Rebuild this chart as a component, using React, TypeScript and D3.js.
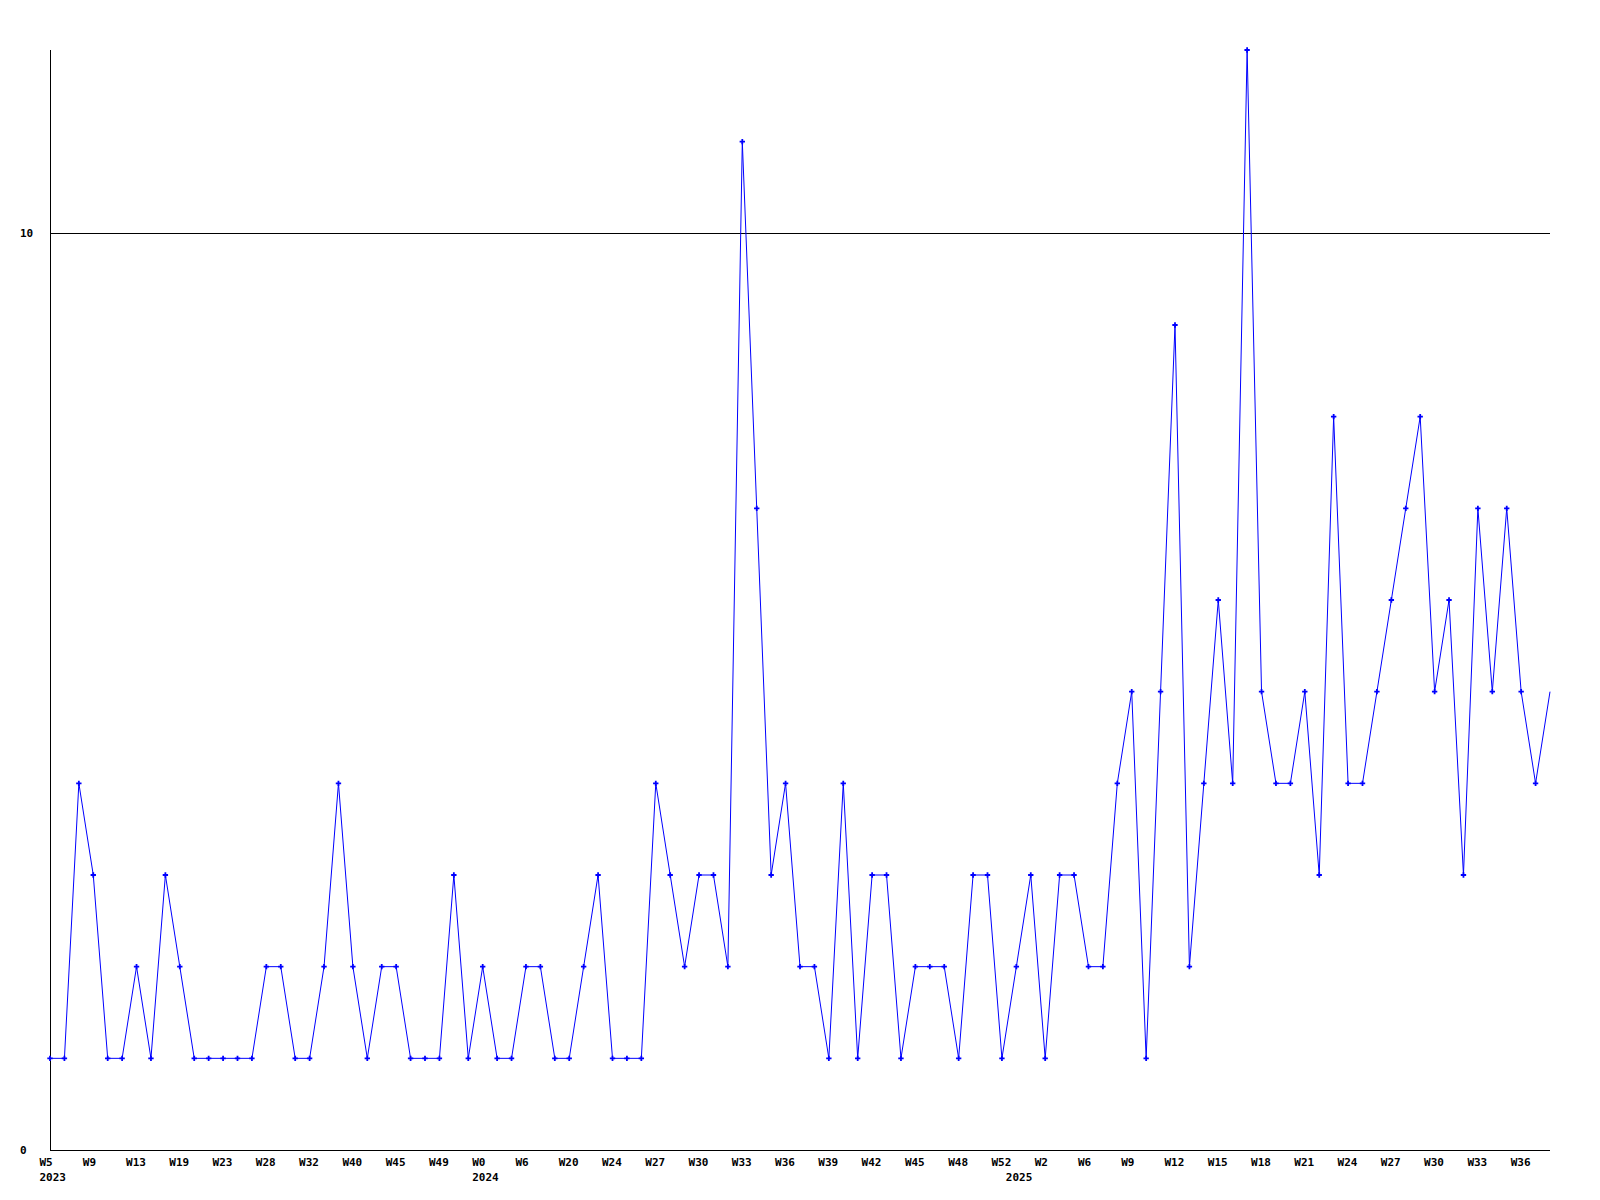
import React, { useEffect, useRef } from "react";
import * as d3 from "d3";

// weekly counts, one per point
const counts: number[] = [
  1, 1, 4, 3, 1, 1, 2, 1, 3, 2,
  1, 1, 1, 1, 1, 2, 2, 1, 1, 2,
  4, 2, 1, 2, 2, 1, 1, 1, 3, 1,
  2, 1, 1, 2, 2, 1, 1, 2, 3, 1,
  1, 1, 4, 3, 2, 3, 3, 2, 11, 7,
  3, 4, 2, 2, 1, 4, 1, 3, 3, 1,
  2, 2, 2, 1, 3, 3, 1, 2, 3, 1,
  3, 3, 2, 2, 4, 5, 1, 5, 9, 2,
  4, 6, 4, 12, 5, 4, 4, 5, 3, 8,
  4, 4, 5, 6, 7, 8, 5, 6, 3, 7,
  5, 7, 5, 4, 5,
];

// week labels, shown on every third point
const weekLabels: string[] = [
  "W5", "W9", "W13", "W19", "W23", "W28", "W32", "W40", "W45", "W49",
  "W0", "W6", "W20", "W24", "W27", "W30", "W33", "W36", "W39", "W42",
  "W45", "W48", "W52", "W2", "W6", "W9", "W12", "W15", "W18", "W21",
  "W24", "W27", "W30", "W33", "W36",
];
const labelStep = 3;

const yearLabels: string[] = ["2023", "2024", "2025"];
const yearIndex: number[] = [0, 30, 67];

const yTicks: number[] = [0, 10];
const yMax = 12;

const App: React.FC = () => {
  const svgRef = useRef<SVGSVGElement>(null);

  useEffect(() => {
    const svg = d3.select(svgRef.current);
    svg.selectAll("*").remove();

    const width = 1600;
    const height = 1200;
    const margin = { top: 50, right: 50, bottom: 50, left: 50 };
    const font = "'DejaVu Sans Mono', monospace";

    const x = d3
      .scaleLinear()
      .domain([0, counts.length - 1])
      .range([margin.left, width - margin.right]);

    const y = d3
      .scaleLinear()
      .domain([0, yMax])
      .range([height - margin.bottom, margin.top]);

    // axes
    svg
      .append("line")
      .attr("x1", margin.left + 0.5)
      .attr("x2", margin.left + 0.5)
      .attr("y1", y(yMax))
      .attr("y2", y(0))
      .attr("stroke", "#000")
      .attr("shape-rendering", "crispEdges");

    svg
      .selectAll(".hline")
      .data(yTicks)
      .enter()
      .append("line")
      .attr("x1", margin.left)
      .attr("x2", width - margin.right)
      .attr("y1", (d) => Math.round(y(d)) + 0.5)
      .attr("y2", (d) => Math.round(y(d)) + 0.5)
      .attr("stroke", "#000")
      .attr("shape-rendering", "crispEdges");

    svg
      .selectAll(".ylab")
      .data(yTicks)
      .enter()
      .append("text")
      .attr("x", 20)
      .attr("y", (d) => y(d) + 4)
      .attr("font-family", font)
      .attr("font-weight", "bold")
      .attr("font-size", 11)
      .attr("fill", "#000")
      .text((d) => String(d));

    svg
      .selectAll(".xlab")
      .data(weekLabels)
      .enter()
      .append("text")
      .attr("x", (_, i) => x(i * labelStep) - 10.5)
      .attr("y", height - margin.bottom + 16)
      .attr("font-family", font)
      .attr("font-weight", "bold")
      .attr("font-size", 11)
      .attr("fill", "#000")
      .text((d) => d);

    svg
      .selectAll(".year")
      .data(yearLabels)
      .enter()
      .append("text")
      .attr("x", (_, i) => x(yearIndex[i]) - 10.5)
      .attr("y", height - margin.bottom + 31)
      .attr("font-family", font)
      .attr("font-weight", "bold")
      .attr("font-size", 11)
      .attr("fill", "#000")
      .text((d) => d);

    const line = d3
      .line<number>()
      .x((_, i) => x(i))
      .y((d) => y(d));

    svg
      .append("path")
      .datum(counts)
      .attr("d", line)
      .attr("stroke", "#0000ff")
      .attr("stroke-width", 1)
      .attr("fill", "none");

    // no marker on the last point
    const marker = d3.symbol().type(d3.symbolCross).size(16);
    svg
      .selectAll(".pt")
      .data(counts.slice(0, counts.length - 1))
      .enter()
      .append("path")
      .attr("d", marker)
      .attr("transform", (d, i) => `translate(${x(i)},${y(d)})`)
      .attr("fill", "#0000ff");
  }, []);

  return (
    <svg
      ref={svgRef}
      width={1600}
      height={1200}
      style={{ position: "absolute", left: 0, top: 0, background: "#fff" }}
    />
  );
};

export default App;
